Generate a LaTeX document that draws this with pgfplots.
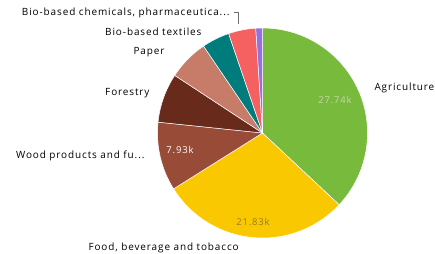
\documentclass[border=0pt]{standalone}
\usepackage{pgfplots}
\pgfplotsset{compat=1.18}
\usepackage{pgfplotstable}
\usepackage{fontspec}
\setmainfont{Open Sans}[LetterSpace=9]
\definecolor{slice0}{RGB}{120,186,60}
\definecolor{slice1}{RGB}{250,200,0}
\definecolor{slice2}{RGB}{152,76,56}
\definecolor{slice3}{RGB}{104,42,26}
\definecolor{slice4}{RGB}{198,124,104}
\definecolor{slice5}{RGB}{0,124,124}
\definecolor{slice6}{RGB}{245,96,96}
\definecolor{slice7}{RGB}{150,112,222}
\definecolor{lbl}{RGB}{110,110,110}
\pgfplotstableread{
name value
Agriculture 27.74
Food 21.83
Wood 7.93
Forestry 5.70
Paper 4.70
Textiles 3.20
Chemicals 3.15
Other 0.77
}\piedata
\begin{document}
\begin{tikzpicture}
% cumulative angles from the data
\gdef\total{0}
\pgfplotstableforeachcolumnelement{value}\of\piedata\as\v{%
  \pgfmathsetmacro\tmpa{\total+\v}\xdef\total{\tmpa}}
\gdef\cum{0}
\pgfplotstableforeachcolumnelement{value}\of\piedata\as\v{%
  \pgfmathsetmacro\tmps{90-360*(\cum/\total)}%
  \pgfmathsetmacro\tmpc{\cum+\v}\xdef\cum{\tmpc}%
  \pgfmathsetmacro\tmpe{90-360*(\cum/\total)}%
  \expandafter\xdef\csname sA\pgfplotstablerow\endcsname{\tmps}%
  \expandafter\xdef\csname eA\pgfplotstablerow\endcsname{\tmpe}}
\begin{axis}[
  width=435bp, height=254bp, scale only axis,
  xmin=0, xmax=435, ymin=0, ymax=254,
  hide axis, clip=false,
  every node/.style={font=\fontsize{13}{14}\selectfont, text=lbl, inner sep=0pt},
]
\pgfplotsinvokeforeach{0,...,7}{
  \edef\tmp{\noexpand\fill[slice#1, draw=white, line width=0.5pt]
    (axis cs:262.5,121) -- ++(\csname sA#1\endcsname:105bp)
    arc[start angle=\csname sA#1\endcsname, end angle=\csname eA#1\endcsname, radius=105bp] -- cycle;}
  \tmp
}
% labels
\node[anchor=east] at (axis cs:233,241) {Bio-based chemicals, pharmaceutica...};
\draw[lbl, line width=0.6pt] (axis cs:234,241.5) -- (axis cs:238,241.5) -- (axis cs:238,230);
\node[anchor=east] at (axis cs:205,222) {Bio-based textiles};
\node[anchor=east] at (axis cs:168,202) {Paper};
\node[anchor=east] at (axis cs:153,161) {Forestry};
\node[anchor=east] at (axis cs:148,98) {Wood products and fu...};
\node[anchor=west] at (axis cs:85,6) {Food, beverage and tobacco};
\node[anchor=west] at (axis cs:371,166) {Agriculture};
\node[font=\fontsize{9.5}{10}\selectfont, text={rgb,255:red,200;green,215;blue,170}] at (axis cs:335,154) {27.74k};
\node[font=\fontsize{9.5}{10}\selectfont, text={rgb,255:red,150;green,120;blue,40}] at (axis cs:253,32) {21.83k};
\node[font=\fontsize{9.5}{10}\selectfont, text=white] at (axis cs:180,104) {7.93k};
\end{axis}
\pgfresetboundingbox
\path (0,0) rectangle (435bp,254bp);
\end{tikzpicture}
\end{document}
